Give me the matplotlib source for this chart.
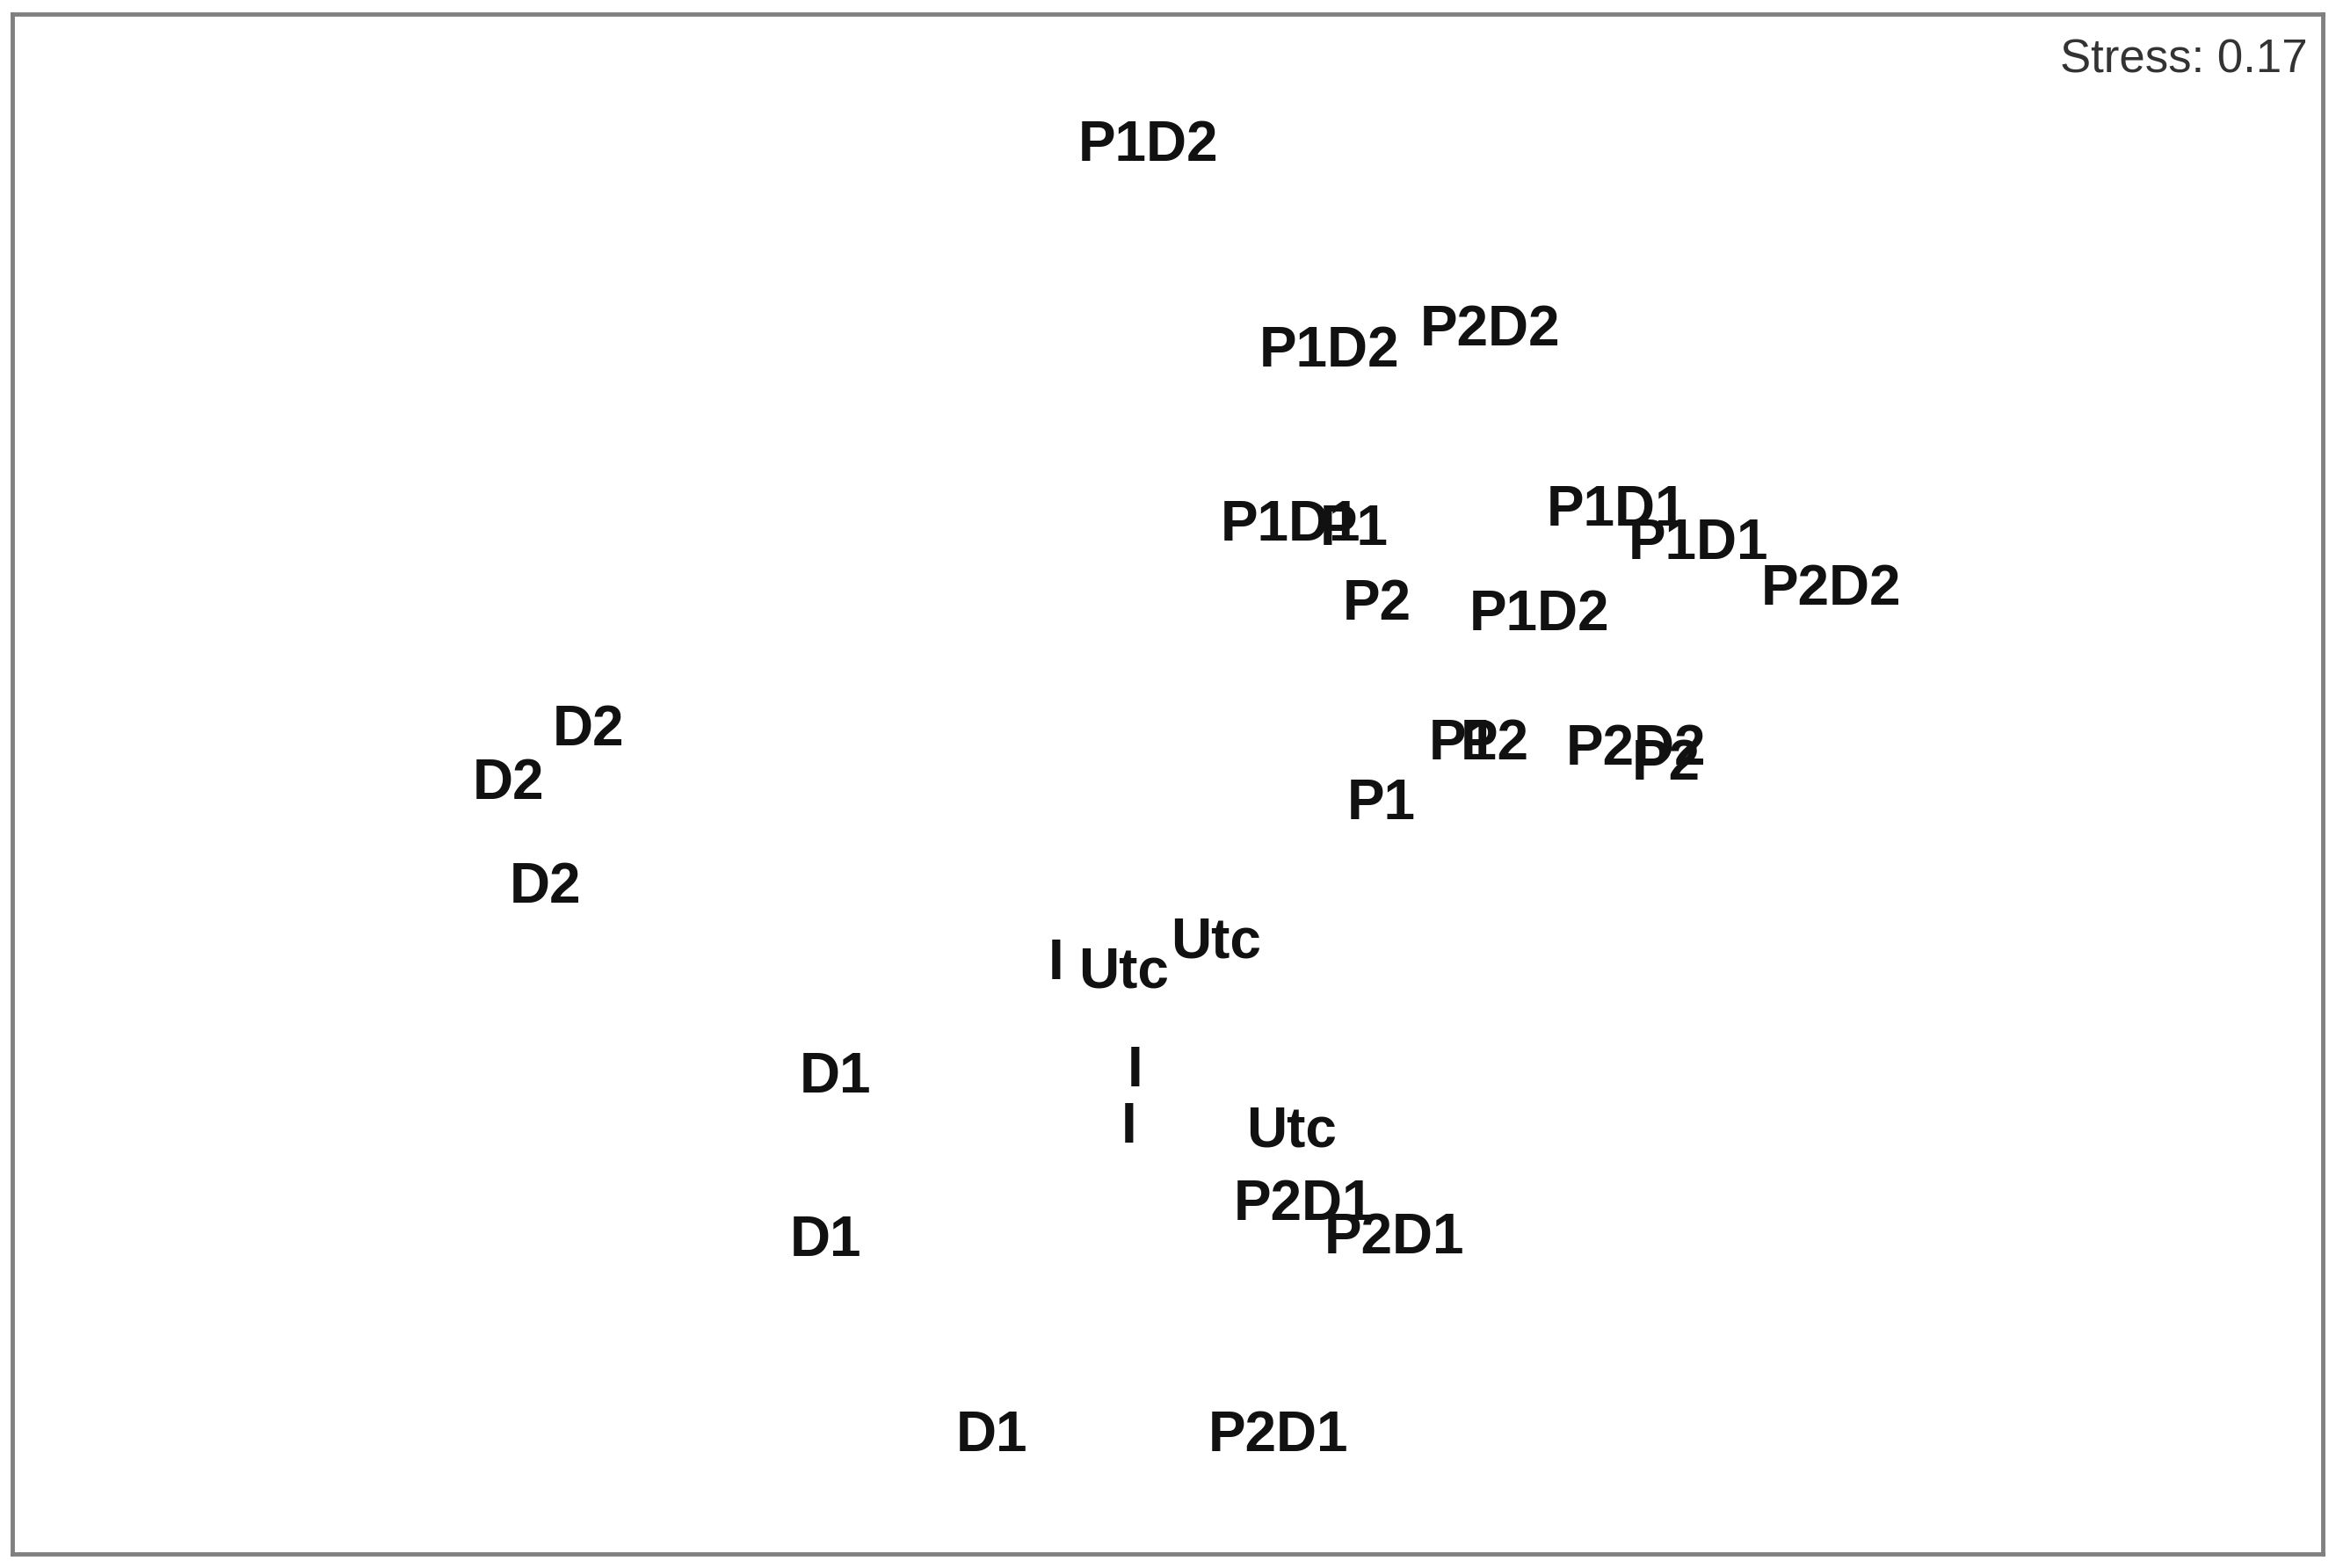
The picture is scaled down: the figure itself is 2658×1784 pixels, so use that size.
import matplotlib.pyplot as plt
import matplotlib

matplotlib.rcParams['font.family'] = ['Liberation Sans', 'DejaVu Sans']

# NMDS sample scores
labels = ['P1D2', 'P1D2', 'P2D2', 'P1D1', 'P1', 'P1D1', 'P1D1', 'P2D2', 'P2', 'P1D2',
          'P1', 'P2', 'P2D2', 'P2', 'P1', 'D2', 'D2', 'D2', 'I', 'Utc',
          'Utc', 'D1', 'I', 'I', 'Utc', 'P2D1', 'P2D1', 'D1', 'D1', 'P2D1']
nmds1 = [-0.022, 0.184, 0.367, 0.140, 0.212, 0.511, 0.604, 0.755, 0.238, 0.423,
         0.336, 0.372, 0.533, 0.567, 0.243, -0.659, -0.750, -0.708, -0.127, -0.050,
         0.055, -0.378, -0.037, -0.044, 0.141, 0.155, 0.258, -0.389, -0.200, 0.126]
nmds2 = [0.726, 0.492, 0.516, 0.294, 0.289, 0.311, 0.273, 0.221, 0.204, 0.192,
         0.045, 0.045, 0.039, 0.022, -0.023, 0.061, 0.000, -0.118, -0.205, -0.215,
         -0.181, -0.334, -0.327, -0.391, -0.396, -0.479, -0.517, -0.520, -0.742, -0.742]
stress = 0.17

fig = plt.figure(figsize=(26.58, 17.84), dpi=100)
ax = fig.add_axes([0.00527, 0.00897, 0.98909, 0.98206])
for lab, x, y in zip(labels, nmds1, nmds2):
    ax.text(x, y, lab, ha='center', va='center', fontsize=46, fontweight='bold', color='#111111')

ax.set_xlim(-1.3145, 1.3145)
ax.set_ylim(-0.876, 0.876)
ax.set_xticks([])
ax.set_yticks([])
for s in ax.spines.values():
    s.set_color('#808080')
    s.set_linewidth(3.5)

ax.text(0.9935, 0.970, 'Stress: %.2f' % stress, transform=ax.transAxes, ha='right', va='center',
        fontsize=38, color='#333333')

plt.savefig('out.png', dpi=100)
